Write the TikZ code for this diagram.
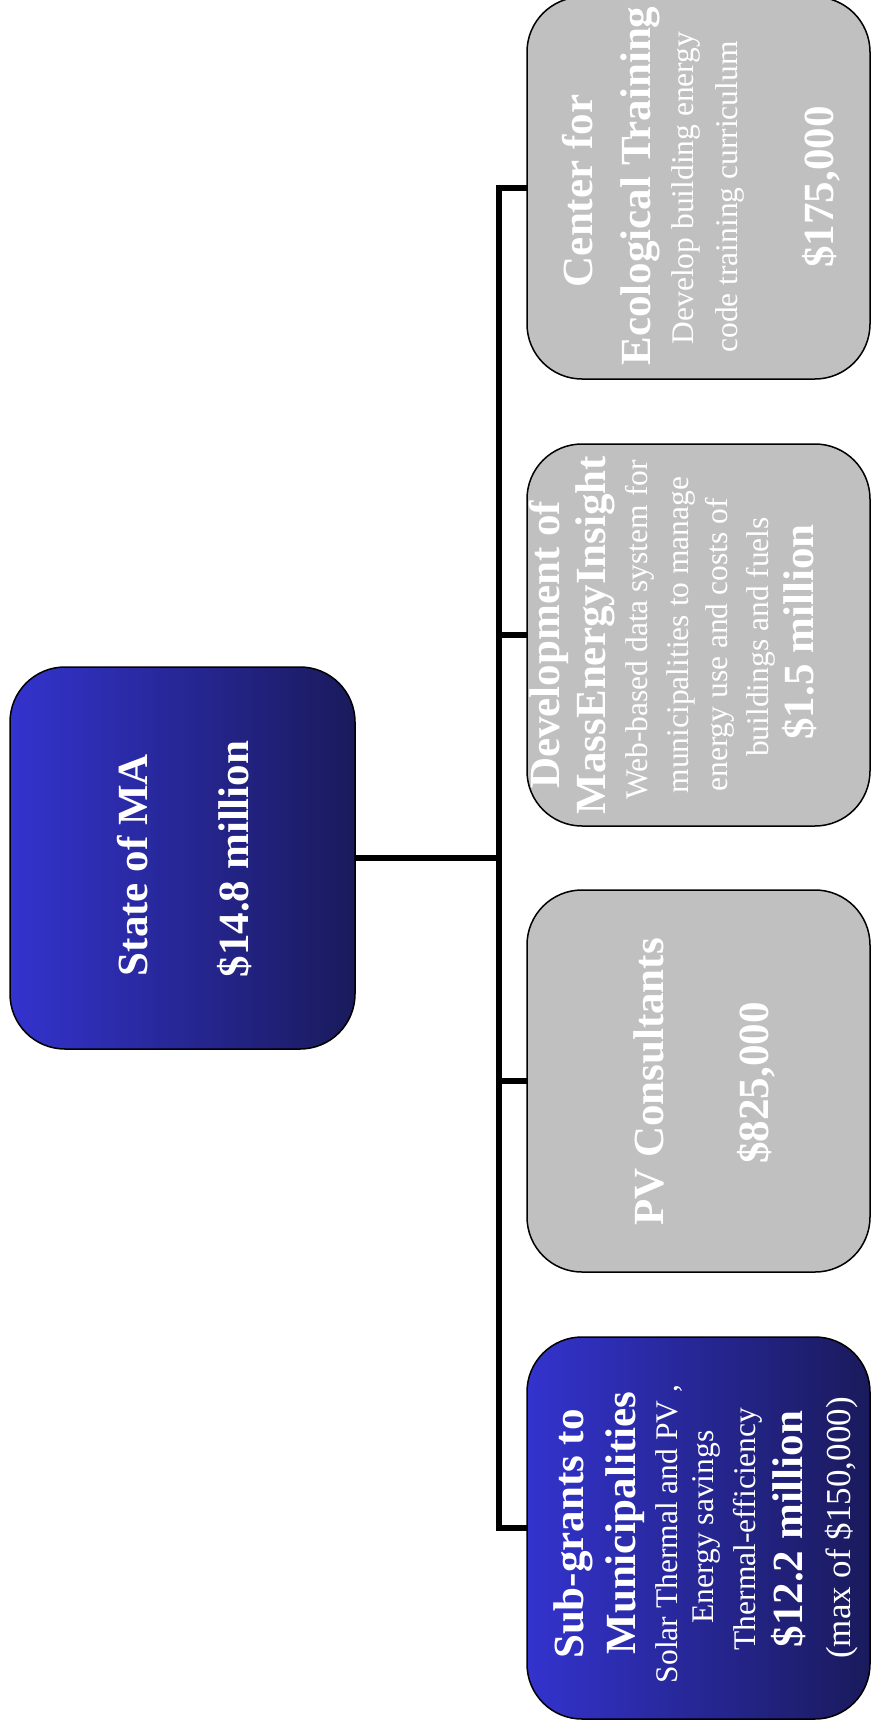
\documentclass[tikz,border=0pt]{standalone}
\usepackage{fontspec}
\setmainfont{Liberation Serif}
\begin{document}
\newcommand\hdfont{\fontsize{43}{48}\selectfont\bfseries}
\newcommand\txfont{\fontsize{31.5}{38}\selectfont}
\newcommand\smfont{\fontsize{35}{40}\selectfont}
\definecolor{blueL}{RGB}{51,51,206}
\definecolor{blueD}{RGB}{26,26,92}
\definecolor{boxgray}{RGB}{192,192,192}
\begin{tikzpicture}[x=1pt,y=-1pt,
  box/.style={draw=black, line width=1.5pt, rounded corners=55pt,
    inner sep=0pt, outer sep=0pt, minimum width=343pt, minimum height=382pt},
  bluebox/.style={box, left color=blueL, right color=blueD},
  graybox/.style={box, fill=boxgray},
  ln/.style={rotate=90, anchor=base, inner sep=0pt, outer sep=0pt, text=white},
  conn/.style={draw=black, line width=6pt, line join=miter}]
\useasboundingbox (0,0) rectangle (870,1731);

% funding boxes
\node[bluebox, minimum width=345pt] (root) at (182.5,858) {};
\node[bluebox] (sub) at (698.5,1528) {};
\node[graybox] (pv)  at (698.5,1081) {};
\node[graybox] (mei) at (698.5,635) {};
\node[graybox] (cet) at (698.5,188) {};

% tree connectors
\coordinate (trunk) at (499,858);
\draw[conn] (root.east) -- (trunk);
\draw[conn] (cet.west) -- (cet.west -| trunk) -- (sub.west -| trunk) -- (sub.west);
\draw[conn] (pv.west) -- (pv.west -| trunk);
\draw[conn] (mei.west) -- (mei.west -| trunk);

% State of MA
\node[ln, font=\hdfont] (root1) at (147,865) {State of MA};
\node[ln, font=\hdfont] (root2) at (248,859) {\$14.8 million};

% Sub-grants
\node[ln, font=\hdfont] (sub1) at (583,1534) {Sub-grants to};
\node[ln, font=\hdfont] (sub2) at (635,1523) {Municipalities};
\node[ln, font=\txfont] (sub3) at (677,1534) {Solar Thermal and PV ,};
\node[ln, font=\txfont] (sub4) at (713,1527) {Energy savings};
\node[ln, font=\txfont] (sub5) at (755,1529) {Thermal-efficiency};
\node[ln, font=\hdfont] (sub6) at (802,1529) {\$12.2 million};
\node[ln, font=\smfont] (sub7) at (850,1528) {(max of \$150,000)};

% PV Consultants
\node[ln, font=\hdfont] (pv1) at (663,1082) {PV Consultants};
\node[ln, font=\hdfont] (pv2) at (768,1083) {\$825,000};

% MassEnergyInsight
\node[ln, font=\hdfont] (mei1) at (559,645) {Development of};
\node[ln, font=\hdfont] (mei2) at (605,635) {MassEnergyInsight};
\node[ln, font=\txfont] (mei3) at (647,630) {Web-based data system for};
\node[ln, font=\txfont] (mei4) at (688,635) {municipalities to manage};
\node[ln, font=\txfont] (mei5) at (727,645) {energy use and costs of};
\node[ln, font=\txfont] (mei6) at (768,637) {buildings and fuels};
\node[ln, font=\hdfont] (mei7) at (813,632) {\$1.5 million};

% Center for Ecological Training
\node[ln, font=\hdfont] (cet1) at (592,191) {Center for};
\node[ln, font=\hdfont] (cet2) at (650,186) {Ecological Training};
\node[ln, font=\txfont] (cet3) at (693,188) {Develop building energy};
\node[ln, font=\txfont] (cet4) at (737,197) {code training curriculum};
\node[ln, font=\hdfont] (cet5) at (833,187) {\$175,000};
\end{tikzpicture}
\end{document}
